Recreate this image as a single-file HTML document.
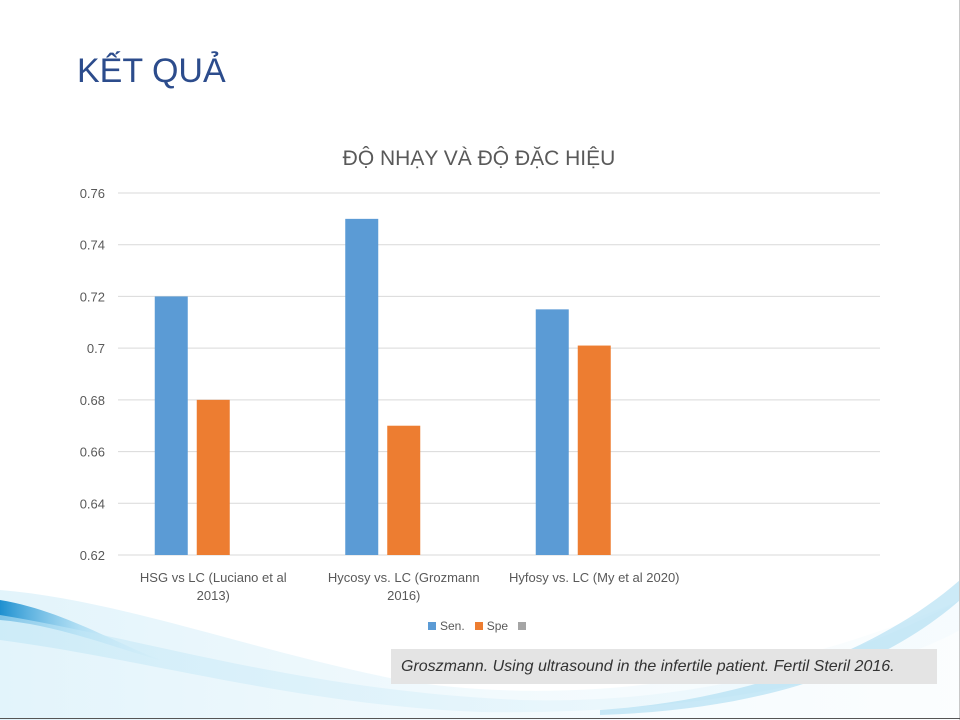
<!DOCTYPE html>
<html><head><meta charset="utf-8"><style>
body{margin:0;width:960px;height:720px;overflow:hidden;background:#fff;font-family:"Liberation Sans","Noto Sans CJK SC",sans-serif;position:relative}
.abs{position:absolute}
</style></head><body>
<svg class="abs" style="left:0;top:0" width="960" height="720">
<defs>
<linearGradient id="g1" x1="0" x2="1"><stop offset="0" stop-color="#1e90d0"/><stop offset="0.5" stop-color="#8fd0ef" stop-opacity="0.6"/><stop offset="1" stop-color="#d8eff9" stop-opacity="0.3"/></linearGradient>
<linearGradient id="g2" x1="0" x2="1"><stop offset="0" stop-color="#bfe6f6"/><stop offset="1" stop-color="#e8f6fc" stop-opacity="0.4"/></linearGradient>
</defs>
<path d="M0,590 C120,600 250,650 400,680 C550,705 750,690 960,600 L960,720 L0,720Z" fill="url(#g2)" opacity="0.45"/>
<path d="M0,600 C60,610 110,640 160,660 C120,650 60,625 0,620Z" fill="url(#g1)"/>
<path d="M0,615 C150,640 300,690 520,700 C700,705 850,660 960,600 L960,630 C850,690 650,715 480,712 C300,705 150,660 0,640Z" fill="url(#g2)" opacity="0.6"/>
<path d="M600,710 C750,700 880,650 960,580 L960,600 C880,670 760,710 600,715Z" fill="#9ad6f0" opacity="0.5"/>
<line x1="959.5" y1="0" x2="959.5" y2="720" stroke="#c8c8c8"/>
<line x1="0" y1="718.5" x2="960" y2="718.5" stroke="#555"/>
</svg>
<div class="abs" style="left:77px;top:52px;font-size:34px;color:#2c4c8c">KẾT QUẢ</div>
<div class="abs" style="left:0;width:958px;text-align:center;top:147px;font-size:21px;color:#595959">ĐỘ NHẠY VÀ ĐỘ ĐẶC HIỆU</div>
<svg class="abs" id="chart" style="left:0;top:0" width="960" height="720"></svg>
<div class="abs" style="left:428px;top:619px;font-size:12px;color:#595959;display:flex;align-items:center;gap:4px">
<span style="width:8px;height:8px;background:#5b9bd5;display:inline-block"></span><span>Sen.</span>
<span style="width:8px;height:8px;background:#ed7d31;display:inline-block;margin-left:6px"></span><span>Spe</span>
<span style="width:8px;height:8px;background:#a5a5a5;display:inline-block;margin-left:6px"></span>
</div>
<div class="abs" style="left:391px;top:649px;width:546px;height:35px;background:#e4e4e4;font-style:italic;font-size:16px;color:#333;line-height:35px;text-indent:10px;white-space:nowrap">Groszmann. Using ultrasound in the infertile patient. Fertil Steril 2016.</div>
<script>
const categories=[["HSG vs LC (Luciano et al","2013)"],["Hycosy vs. LC (Grozmann","2016)"],["Hyfosy vs. LC (My et al 2020)"],[""]];
const senValues=[0.72,0.75,0.715];
const speValues=[0.68,0.67,0.701];
const yTicks=["0.62","0.64","0.66","0.68","0.7","0.72","0.74","0.76"];
const svg=document.getElementById('chart');const NS='http://www.w3.org/2000/svg';
const X0=118,X1=880,Y0=555,Y1=193,ymin=0.62,ymax=0.76;
const y=v=>Y0-(v-ymin)/(ymax-ymin)*(Y0-Y1);
const bw=(X1-X0)/categories.length;
function mk(t,a){const e=document.createElementNS(NS,t);for(const k in a)e.setAttribute(k,a[k]);svg.appendChild(e);return e;}
yTicks.forEach(t=>{const v=parseFloat(t);
const l=mk('line',{x1:X0,x2:X1,y1:y(v),y2:y(v),stroke:'#d9d9d9'});


const tx=mk('text',{x:105,y:y(v)+5,'text-anchor':'end','font-size':13,fill:'#595959','font-family':'Liberation Sans,sans-serif'});tx.textContent=t;

});
const barW=33,gap=9;
function bars(vals,idx,color,name){vals.forEach((v,i)=>{const c=X0+bw*(i+0.5);const x=c-(3*barW+2*gap)/2+idx*(barW+gap);
const r=mk('rect',{x:x,y:y(v),width:barW,height:Y0-y(v),fill:color});

});}
bars(senValues,0,'#5b9bd5','sen');bars(speValues,1,'#ed7d31','spe');
categories.forEach((c,i)=>{const cx=X0+bw*(i+0.5);c.forEach((s,j)=>{const t=mk('text',{x:cx,y:582+j*18,'text-anchor':'middle','font-size':13,fill:'#595959','font-family':'Liberation Sans,sans-serif'});t.textContent=s;

});});
</script>
</body></html>
